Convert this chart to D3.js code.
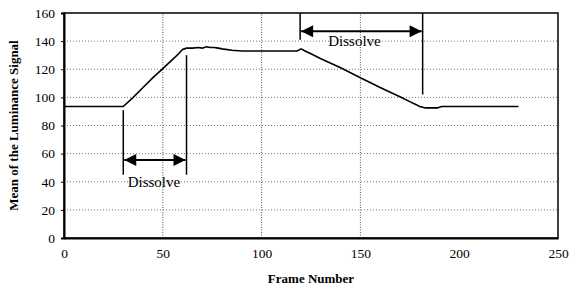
<!DOCTYPE html>
<html>
<head>
<meta charset="utf-8">
<script src="https://cdn.jsdelivr.net/npm/d3@7"></script>
<style>
  body { margin: 0; background: #fff; }
  text { font-family: "Liberation Serif", "Times New Roman", serif; }
</style>
</head>
<body>
<script>
// chart data
var frames = [0, 30, 35, 40, 45, 50, 55, 58, 60, 62, 65, 68, 70, 72, 74, 76, 78, 80, 85, 90, 100, 110, 118, 120, 122, 125, 130, 140, 150, 160, 170, 175, 178, 180, 183, 186, 189, 191, 200, 210, 220, 230];
var luminance = [93.5, 93.5, 100, 107, 114, 120.5, 127, 131, 134, 135, 135, 135.5, 135, 136, 135.5, 135.5, 135, 134.5, 133.5, 133, 133, 133, 133, 134.5, 133, 131, 127.5, 121, 114, 107, 100.5, 97, 95, 93.5, 92.5, 92.5, 92.5, 93.5, 93.5, 93.5, 93.5, 93.5];
var xTicks = [0, 50, 100, 150, 200, 250];
var yTicks = [0, 20, 40, 60, 80, 100, 120, 140, 160];
var xGrid = [50, 100, 150];
// dissolve annotations
var dissolves = [
  { from: 30, to: 62, arrowY: 55.5, fromLine: [45, 91], toLine: [45, 130], labelX: 45.5, labelY: 36 },
  { from: 119.5, to: 181.5, arrowY: 147, fromLine: [141, 160], toLine: [102, 160], labelX: 147, labelY: 136.5 }
];

var width = 577, height = 290;
var margin = { left: 64, right: 19, top: 13, bottom: 52 };

var svg = d3.select("body").append("svg")
  .attr("width", width)
  .attr("height", height);

var x = d3.scaleLinear().domain([0, 250]).range([margin.left, width - margin.right]);
var y = d3.scaleLinear().domain([0, 160]).range([height - margin.bottom, margin.top]);

// grid lines
svg.append("g").selectAll("line")
  .data(yTicks.slice(1, -1))
  .enter().append("line")
  .attr("x1", x(0)).attr("x2", x(250))
  .attr("y1", d => y(d)).attr("y2", d => y(d))
  .attr("stroke", "#777").attr("stroke-width", 1)
  .attr("stroke-dasharray", "1,2");

svg.append("g").selectAll("line")
  .data(xGrid)
  .enter().append("line")
  .attr("x1", d => x(d)).attr("x2", d => x(d))
  .attr("y1", y(0)).attr("y2", y(160))
  .attr("stroke", "#555").attr("stroke-width", 1)
  .attr("stroke-dasharray", "1,1.5");

// frame
svg.append("rect")
  .attr("x", x(0)).attr("y", y(160))
  .attr("width", x(250) - x(0)).attr("height", y(0) - y(160))
  .attr("fill", "none").attr("stroke", "#000").attr("stroke-width", 1.5);

// axes
var xAxis = d3.axisBottom(x).tickValues(xTicks).tickSize(0).tickPadding(10);
var yAxis = d3.axisLeft(y).tickValues(yTicks).tickSize(3).tickPadding(6);

var gx = svg.append("g").attr("transform", "translate(0," + y(0) + ")").call(xAxis);
var gy = svg.append("g").attr("transform", "translate(" + x(0) + ",0)").call(yAxis);
[gx, gy].forEach(function(g) {
  g.select(".domain").attr("stroke", "#000").attr("stroke-width", 2);
  g.selectAll("text").attr("font-size", 13.5).attr("font-family", "Liberation Serif").attr("fill", "#000");
  g.selectAll(".tick line").attr("stroke", "#000");
});

// axis titles
svg.append("text")
  .attr("x", (x(0) + x(250)) / 2).attr("y", 283)
  .attr("text-anchor", "middle")
  .attr("font-size", 13).attr("font-weight", "bold")
  .text("Frame Number");

svg.append("text")
  .attr("transform", "translate(18," + ((y(0) + y(160)) / 2) + ") rotate(-90)")
  .attr("text-anchor", "middle")
  .attr("font-size", 13).attr("font-weight", "bold")
  .text("Mean of the Luminance Signal");

// data line
var line = d3.line()
  .x((d, i) => x(frames[i]))
  .y(d => y(d));

svg.append("path")
  .datum(luminance)
  .attr("d", line)
  .attr("fill", "none")
  .attr("stroke", "#000")
  .attr("stroke-width", 1.6);

// arrowheads
svg.append("defs").append("marker")
  .attr("id", "arrow")
  .attr("viewBox", "0 0 10 10")
  .attr("refX", 10).attr("refY", 5)
  .attr("markerWidth", 7).attr("markerHeight", 6)
  .attr("markerUnits", "strokeWidth")
  .attr("orient", "auto-start-reverse")
  .append("path")
  .attr("d", "M0,0 L10,5 L0,10 Z")
  .attr("fill", "#000");

var ann = svg.append("g");
dissolves.forEach(function(d) {
  ann.append("line")
    .attr("x1", x(d.from)).attr("x2", x(d.from))
    .attr("y1", y(d.fromLine[0])).attr("y2", y(d.fromLine[1]))
    .attr("stroke", "#000").attr("stroke-width", 1.5);
  ann.append("line")
    .attr("x1", x(d.to)).attr("x2", x(d.to))
    .attr("y1", y(d.toLine[0])).attr("y2", y(d.toLine[1]))
    .attr("stroke", "#000").attr("stroke-width", 1.5);
  ann.append("line")
    .attr("x1", x(d.from) + 1).attr("x2", x(d.to) - 1)
    .attr("y1", y(d.arrowY)).attr("y2", y(d.arrowY))
    .attr("stroke", "#000").attr("stroke-width", 2)
    .attr("marker-start", "url(#arrow)")
    .attr("marker-end", "url(#arrow)");
  ann.append("text")
    .attr("x", x(d.labelX))
    .attr("y", y(d.labelY))
    .attr("text-anchor", "middle")
    .attr("font-size", 15)
    .text("Dissolve");
});
</script>
</body>
</html>
